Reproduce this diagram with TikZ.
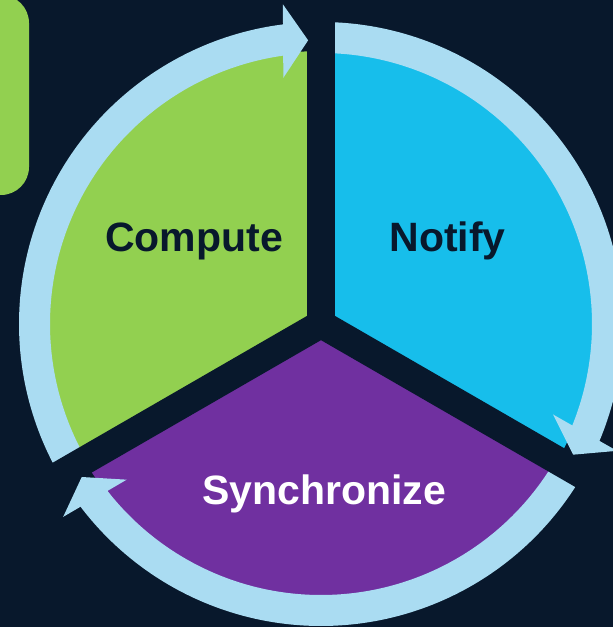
\documentclass[tikz,border=0pt]{standalone}
\usepackage{fontspec}
\setmainfont{Liberation Sans}
\usetikzlibrary{calc}
\definecolor{bg}{HTML}{08182C}
\definecolor{cgreen}{HTML}{92D050}
\definecolor{cblue}{HTML}{17BEEB}
\definecolor{cpurple}{HTML}{7030A0}
\definecolor{cring}{HTML}{AADCF2}
\begin{document}
\begin{tikzpicture}[x=1pt,y=1pt,
  ringarc/.style={draw=cring, line width=31pt, line cap=butt},
  gapband/.style={draw=bg, line width=28pt, line cap=butt},
  head/.style={fill=cring},
  lbl/.style={font=\fontsize{41}{41}\selectfont\bfseries, anchor=base, inner sep=0pt}]
\fill[bg] (0,0) rectangle (613,627);
\useasboundingbox (0,0) rectangle (613,627);
\clip (0,0) rectangle (613,627);
\coordinate (C) at (321,303);
% sectors
\fill[cgreen] (C) -- ++(90:273) arc[start angle=90, end angle=210, radius=273] -- cycle;
\fill[cblue] (C) -- ++(-30:273) arc[start angle=-30, end angle=90, radius=273] -- cycle;
\fill[cpurple] (C) -- ++(210:273) arc[start angle=210, end angle=330, radius=273] -- cycle;
% ring bodies
\draw[ringarc] ($(C)+(210:286.5)$) arc[start angle=210, end angle=97, radius=286.5];
\draw[ringarc] ($(C)+(90:286.5)$) arc[start angle=90, end angle=-23, radius=286.5];
\draw[ringarc] ($(C)+(-30:286.5)$) arc[start angle=-30, end angle=-143, radius=286.5];
% gaps
\foreach \a in {90,-30,210} \draw[gapband] (C) -- ++(\a:340);
\fill[bg] (C) circle (14);
% arrow heads
\foreach \g in {90,-30,210}
  \fill[head] ($(C)+(\g+8.7:249)$) -- ($(C)+(\g+6.8:322)$) -- ($(C)+(\g+2.6:284)$) -- cycle;
% labels
\node[lbl, text=bg] (compute) at (194,375) {Compute};
\node[lbl, text=bg] (notify) at (447.5,375) {Notify};
\node[lbl, text=white] (sync) at (324,122) {Synchronize};
% green tab top-left
\fill[cgreen, rounded corners=28pt] (-40,432) rectangle (29,632);
\end{tikzpicture}
\end{document}
